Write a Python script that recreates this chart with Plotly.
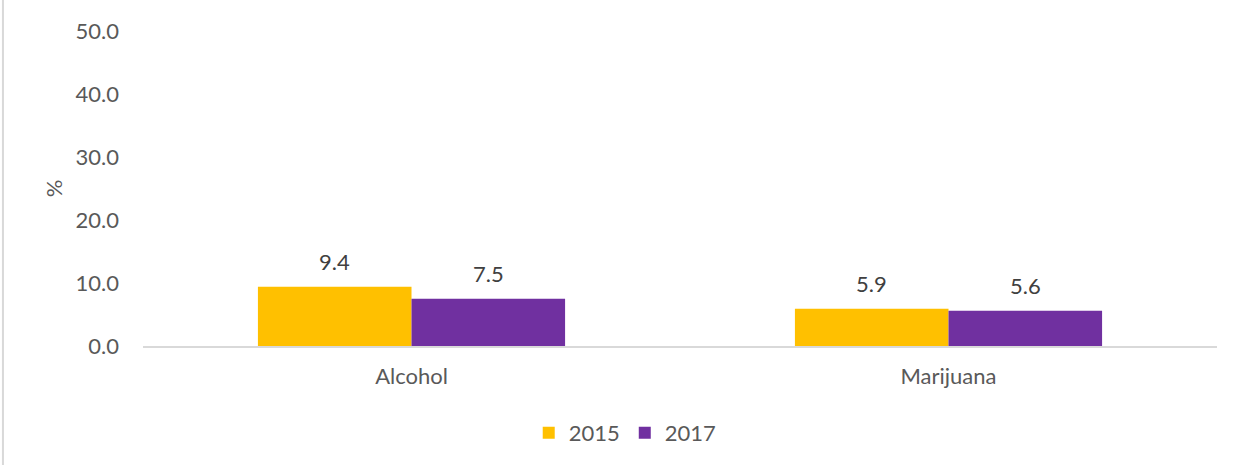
import plotly.graph_objects as go

categories = ["Alcohol", "Marijuana"]
years = ["2015", "2017"]
values_2015 = [9.4, 5.9]
values_2017 = [7.5, 5.6]
colors = ["#FFC000", "#7030A0"]
y_ticks = [0, 10, 20, 30, 40, 50]

FONT = "Lato, 'Open Sans', sans-serif"
FS = 22
series = [values_2015, values_2017]

fig = go.Figure()
for name, vals, col in zip(years, series, colors):
    fig.add_trace(go.Bar(
        x=categories, y=vals, name=name,
        marker=dict(color=col, line=dict(width=0)),
        hoverinfo="x+y+name",
    ))

# value labels above each bar
bar_px = 153.5
for i, vals in enumerate(series):
    shift = (-0.5 if i == 0 else 0.5) * bar_px
    for cat, v in zip(categories, vals):
        fig.add_annotation(
            x=cat, y=v, text=f"{v:.1f}", showarrow=False,
            xshift=shift, yanchor="bottom", yshift=10,
            font=dict(family=FONT, size=FS, color="#404040"),
        )

fig.update_layout(
    width=1244, height=465,
    margin=dict(l=143, r=27, t=31, b=118),
    paper_bgcolor="white", plot_bgcolor="white",
    barmode="group", bargap=0.428, bargroupgap=0,
    font=dict(family=FONT, size=FS, color="#595959"),
    showlegend=True,
    legend=dict(orientation="h", x=0.449, xanchor="center", y=-0.272, yanchor="middle",
                font=dict(size=FS, color="#595959"), itemwidth=30, traceorder="normal"),
    xaxis=dict(showgrid=False, showline=True, linecolor="#D9D9D9", linewidth=1.5,
               ticks="", ticklabelstandoff=10, tickfont=dict(size=FS, color="#595959")),
    yaxis=dict(range=[0, 50], tickvals=y_ticks, ticktext=[f"{t:.1f}" for t in y_ticks],
               showgrid=False, zeroline=False, showline=False, ticks="",
               ticklabelstandoff=23,
               tickfont=dict(size=FS, color="#595959"),
               title=dict(text="%", font=dict(size=FS, color="#595959"), standoff=6)),
)

# thin frame edge at the left
fig.add_shape(type="line", xref="paper", yref="paper", x0=-0.1304, x1=-0.1304, y0=-0.5, y1=1.2,
              line=dict(color="#D9D9D9", width=2))

fig.write_html("out.html")
